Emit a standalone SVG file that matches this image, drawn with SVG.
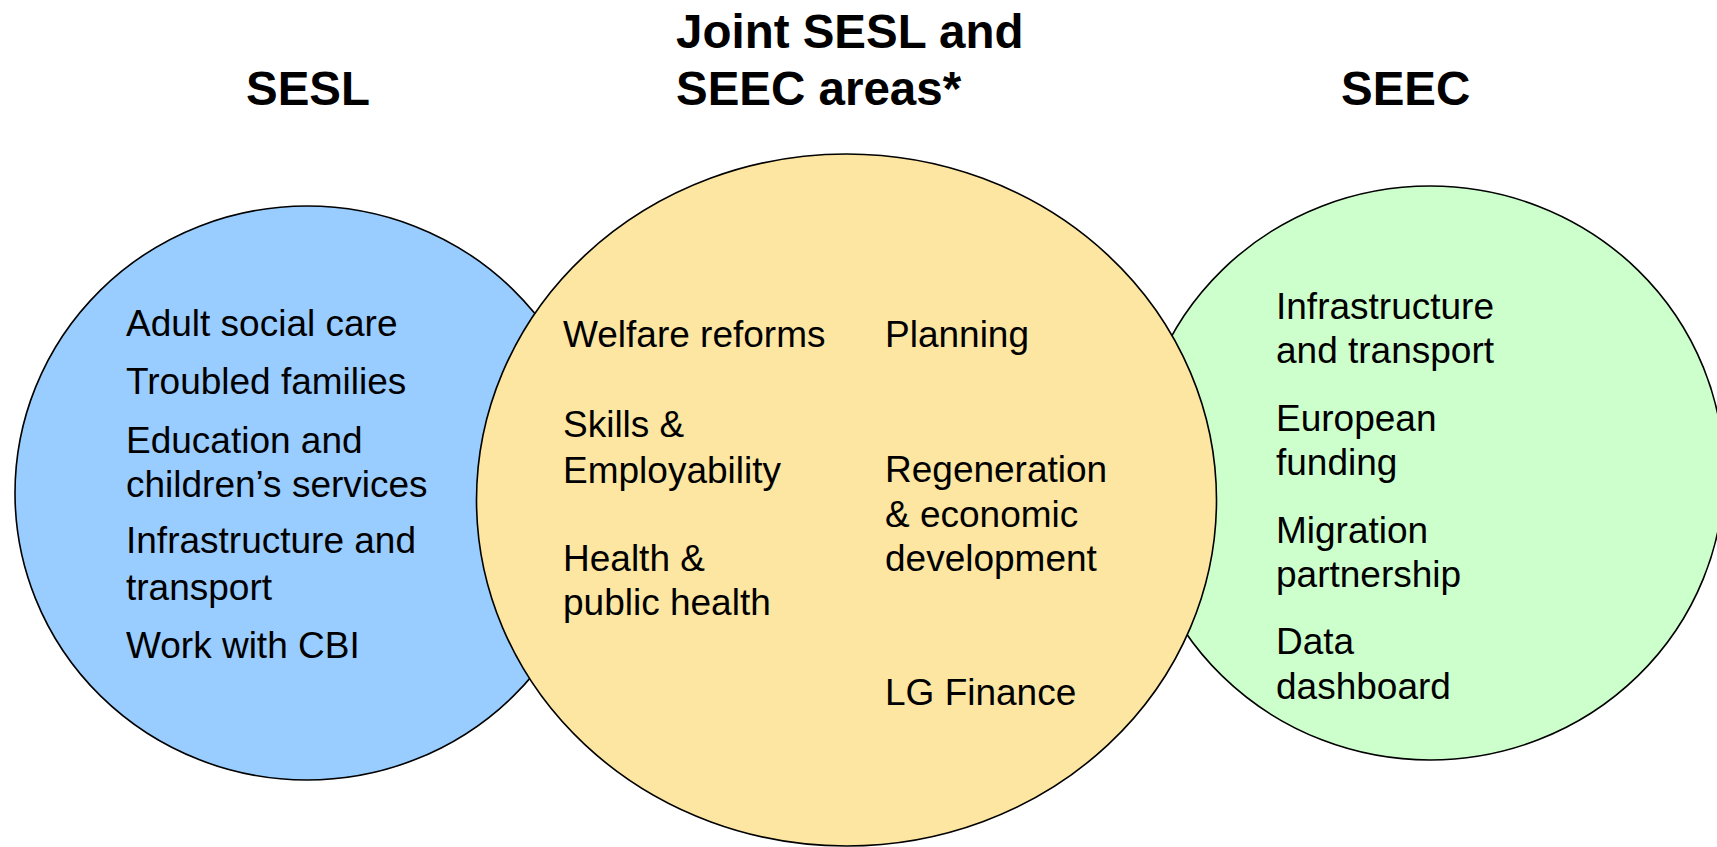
<svg xmlns="http://www.w3.org/2000/svg" width="1717" height="847" viewBox="0 0 1717 847">
<style>
.c{stroke:#000;stroke-width:1.6}
.t{font-family:"Liberation Sans",Arial,sans-serif;font-size:37px;fill:#000}
.h{font-family:"Liberation Sans",Arial,sans-serif;font-size:47.5px;font-weight:bold;fill:#000}
</style>
<rect width="1717" height="847" fill="#fff"/>
<g id="titles">
<text class="h" x="246" y="105">SESL</text>
<text class="h" x="676" y="48">Joint SESL and</text>
<text class="h" x="676" y="105">SEEC areas*</text>
<text class="h" x="1341" y="105">SEEC</text>
</g>
<g id="sesl">
<ellipse class="c" cx="307" cy="493" rx="292" ry="287" fill="#99CCFF"/>
<text class="t" x="126" y="336">Adult social care</text>
<text class="t" x="126" y="394">Troubled families</text>
<text class="t" x="126" y="453">Education and</text>
<text class="t" x="126" y="497">children’s services</text>
<text class="t" x="126" y="553">Infrastructure and</text>
<text class="t" x="126" y="600">transport</text>
<text class="t" x="126" y="658">Work with CBI</text>
</g>
<g id="seec">
<ellipse class="c" cx="1430" cy="473" rx="294" ry="287" fill="#CCFFCC"/>
<text class="t" x="1276" y="319">Infrastructure</text>
<text class="t" x="1276" y="363">and transport</text>
<text class="t" x="1276" y="431">European</text>
<text class="t" x="1276" y="475">funding</text>
<text class="t" x="1276" y="543">Migration</text>
<text class="t" x="1276" y="587">partnership</text>
<text class="t" x="1276" y="654">Data</text>
<text class="t" x="1276" y="699">dashboard</text>
</g>
<g id="joint">
<ellipse class="c" cx="846.5" cy="500" rx="370" ry="346" fill="#FCE6A1"/>
<text class="t" x="563" y="347">Welfare reforms</text>
<text class="t" x="563" y="437">Skills &amp;</text>
<text class="t" x="563" y="483">Employability</text>
<text class="t" x="563" y="571">Health &amp;</text>
<text class="t" x="563" y="615">public health</text>
<text class="t" x="885" y="347">Planning</text>
<text class="t" x="885" y="482">Regeneration</text>
<text class="t" x="885" y="527">&amp; economic</text>
<text class="t" x="885" y="571">development</text>
<text class="t" x="885" y="705">LG Finance</text>
</g>
<g id="connectors"/>
</svg>
